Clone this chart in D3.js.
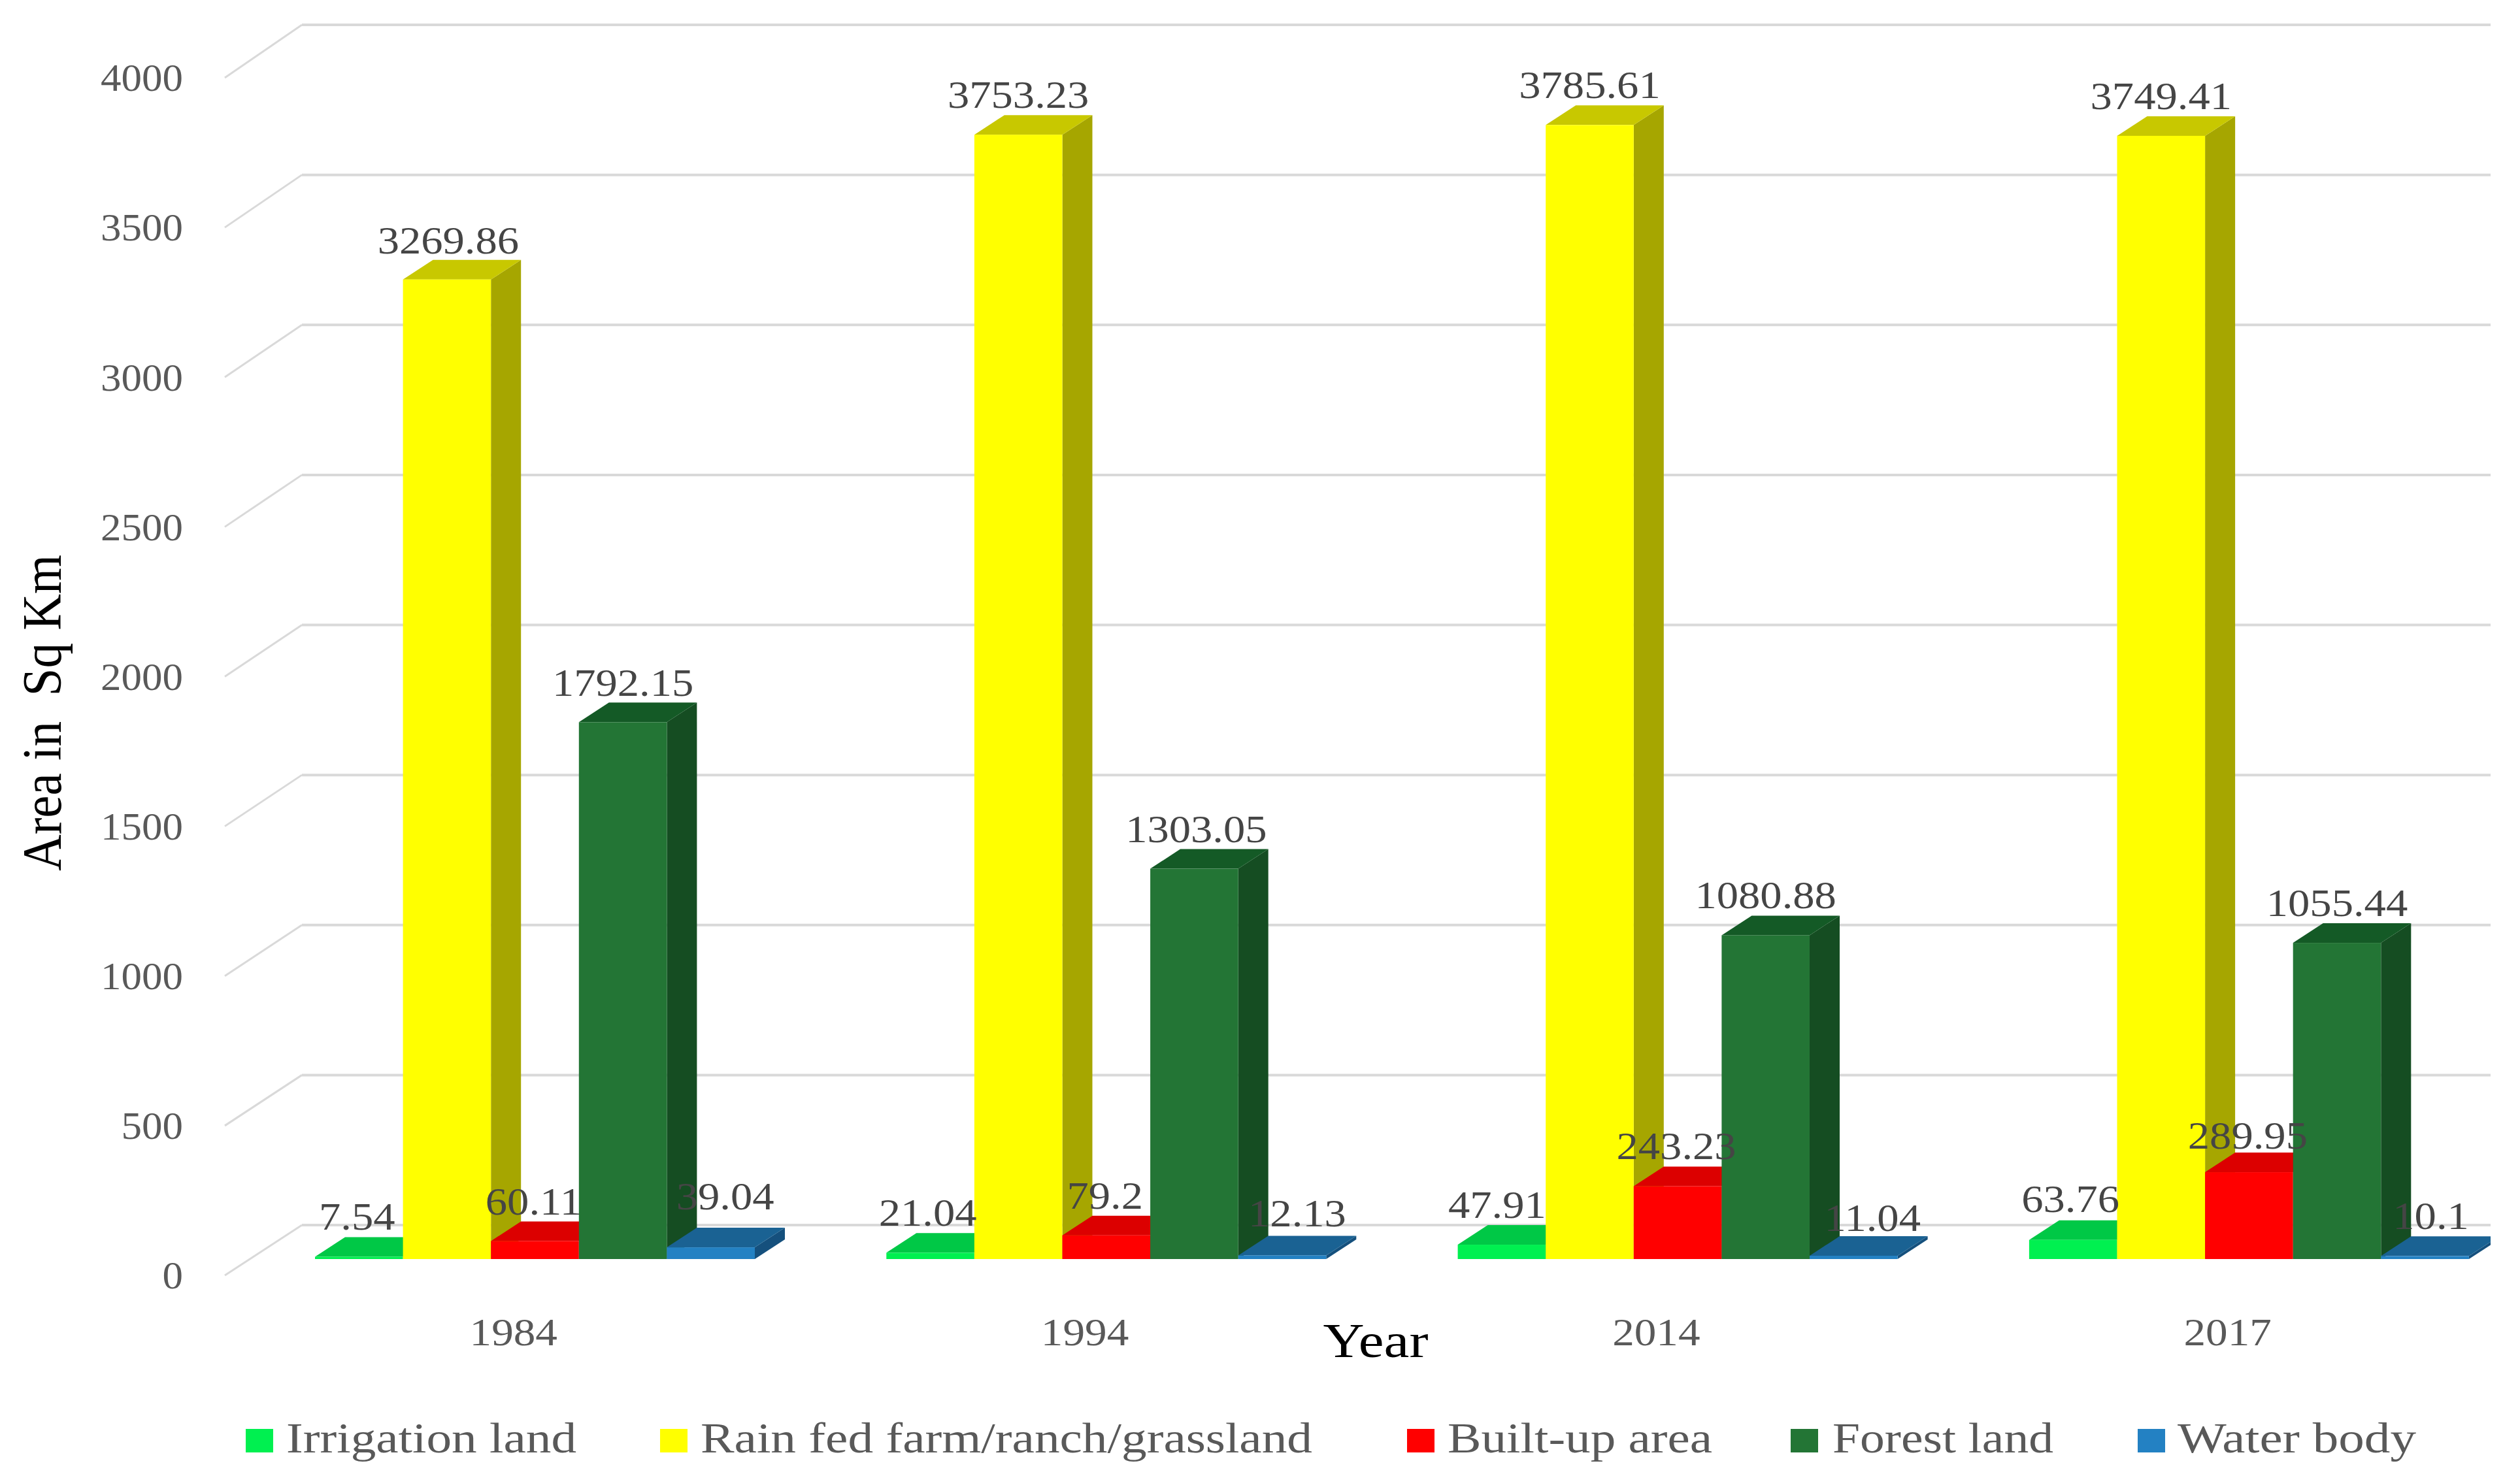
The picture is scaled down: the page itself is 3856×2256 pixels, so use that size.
<!DOCTYPE html>
<html><head><meta charset="utf-8">
<script src="https://cdn.jsdelivr.net/npm/d3@7/dist/d3.min.js"></script>
<style>html,body{margin:0;padding:0;background:#fff}svg{display:block}text{font-family:"Liberation Serif",serif;white-space:pre}</style>
</head><body><svg id="c" width="3856" height="2256"></svg>
<script>
const years = ["1984","1994","2014","2017"];
const seriesNames = ["Irrigation land","Rain fed farm/ranch/grassland","Built-up area","Forest land","Water body"];
const irrigation = [7.54,21.04,47.91,63.76];
const rainFed = [3269.86,3753.23,3785.61,3749.41];
const builtUp = [60.11,79.2,243.23,289.95];
const forest = [1792.15,1303.05,1080.88,1055.44];
const water = [39.04,12.13,11.04,10.1];
const yTicks = [0,500,1000,1500,2000,2500,3000,3500,4000];

const seriesValues = [irrigation,rainFed,builtUp,forest,water];
const faceColors = ["#00F050","#FFFF00","#FF0000","#237535","#2381C3"];
const topColors  = ["#00C846","#C8C800","#DC0000","#145A26","#1A6293"];
const sideColors = ["#00A83A","#A6A600","#B80000","#154D22","#15507D"];
// label nudges [dx,dy] by year, series (hand placed in the source)
const nudges = [
 [[-3,-1],[2,1],[-2,1],[0,1],[22,-17]],
 [[-4,0],[0,0],[-2,0],[3,0],[23,-3]],
 [[-7,0],[0,0],[-2,0],[0,0],[29,3]],
 [[-4,-2],[0,0],[-2,5],[0,0],[9,0]]
];
const legendSwatchX = [376,1010,2153,2740,3271];
const legendTextX = [438,1072,2215,2804,3332];
const legendTextW = [444,936,405,338,365];

const svg = d3.select("#c");
svg.append("rect").attr("width",3856).attr("height",2256).attr("fill","#fff");
svg.append("defs").append("clipPath").attr("id","plot").append("rect")
  .attr("x",0).attr("y",0).attr("width",3811).attr("height",2256);

const DX=46, DY=30;
const yFront = d3.scaleLinear().domain([0,4000]).range([1952,119]);
const yBack  = d3.scaleLinear().domain([0,4000]).range([1875,38]);
const yBar   = d3.scaleLinear().domain([0,4000]).range([1927,93]);
const xGroup = d3.scaleBand().domain(years).range([482,482+874.3*4]);
const xSeries= d3.scaleBand().domain(d3.range(5)).range([0,673]);
const w = xSeries.bandwidth();

function fit(sel,fn){ sel.each(function(d,i){
  const n=this.getComputedTextLength();
  d3.select(this).attr("lengthAdjust","spacingAndGlyphs").attr("textLength",fn(n,d,i));
});}

// gridlines
const grid = svg.append("g").attr("fill","none").attr("stroke","#D9D9D9");
grid.selectAll("path.h").data(yTicks).join("path").attr("class","h").attr("stroke-width",4)
  .attr("d",t=>`M462,${yBack(t)}H3811`);
grid.selectAll("path.d").data(yTicks).join("path").attr("class","d").attr("stroke-width",3)
  .attr("d",t=>`M344,${yFront(t)}L462,${yBack(t)}`);

// y axis
const gy = svg.append("g").attr("transform","translate(300,0)")
  .call(d3.axisLeft(yFront).tickValues(yTicks).tickFormat(d3.format("d")).tickSize(0).tickPadding(20));
gy.select(".domain").remove();
gy.selectAll("text").attr("font-family",null).attr("font-size",60).attr("fill","#595959").attr("dy","0.33em");
fit(gy.selectAll("text"),n=>n*1.05);

// bars
const plot = svg.append("g").attr("clip-path","url(#plot)");
years.forEach((yr,g)=>{
  const gg = plot.append("g").attr("transform",`translate(${xGroup(yr)},0)`);
  seriesValues.forEach((vals,s)=>{
    const x0=xSeries(s), x1=x0+w, yT=yBar(vals[g]), yB=yBar(0);
    gg.append("path").attr("fill",sideColors[s])
      .attr("d",`M${x1},${yT}L${x1+DX},${yT-DY}L${x1+DX},${yB-DY}L${x1},${yB}Z`);
    gg.append("path").attr("fill",topColors[s])
      .attr("d",`M${x0},${yT}L${x0+DX},${yT-DY}L${x1+DX},${yT-DY}L${x1},${yT}Z`);
    gg.append("rect").attr("fill",faceColors[s]).attr("x",x0).attr("y",yT).attr("width",w).attr("height",yB-yT);
  });
});

// data labels
years.forEach((yr,g)=>{
  seriesValues.forEach((vals,s)=>{
    const t=svg.append("text").attr("text-anchor","middle").attr("font-size",60).attr("fill","#454545")
      .attr("x",xGroup(yr)+xSeries(s)+w/2+nudges[g][s][0])
      .attr("y",yBar(vals[g])-41+nudges[g][s][1])
      .text(String(vals[g]));
    fit(t,n=>n*1.11);
  });
});

// category axis
const gx = svg.append("g").attr("transform","translate(-133.4,2059)")
  .call(d3.axisBottom(xGroup).tickSize(0).tickPadding(0));
gx.select(".domain").remove();
gx.selectAll("text").attr("font-family",null).attr("font-size",60).attr("fill","#595959").attr("dy",0).attr("y",0);
fit(gx.selectAll("text"),n=>n*1.12);

// titles
const ty=svg.append("text").attr("x",2105).attr("y",2077).attr("text-anchor","middle").attr("font-size",75).attr("fill","#000").text("Year");
fit(ty,()=>161);
const ta=svg.append("text").attr("transform","translate(93,1091) rotate(-90)").attr("text-anchor","middle").attr("font-size",85).attr("fill","#000").text("Area in  Sq Km");
fit(ta,()=>484);

// legend
seriesNames.forEach((nm,i)=>{
  svg.append("rect").attr("x",legendSwatchX[i]).attr("y",2187).attr("width",42).attr("height",36).attr("fill",faceColors[i]);
  const t=svg.append("text").attr("x",legendTextX[i]).attr("y",2223).attr("font-size",65).attr("fill","#595959").text(nm);
  fit(t,()=>legendTextW[i]);
});
</script></body></html>
